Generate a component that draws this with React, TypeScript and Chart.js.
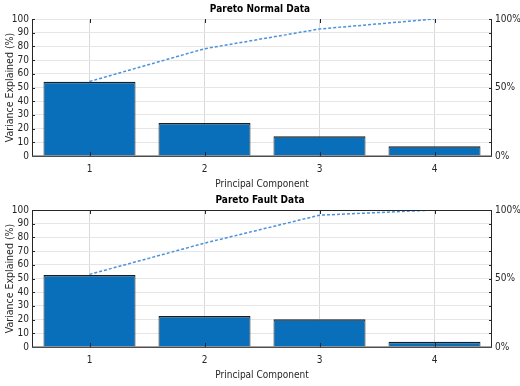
import React, { useEffect, useRef } from "react";
import { Chart, registerables } from "chart.js";

Chart.register(...registerables);

const categories = ["1", "2", "3", "4"];
const normalVariance = [54.2, 24.0, 14.4, 7.1];
const normalCumulative = [54.4, 78.3, 92.7, 100];
const faultVariance = [52.6, 22.6, 20.3, 3.8];
const faultCumulative = [53.0, 75.8, 96.2, 100];
const rightTickLabels: Record<number, string> = { 0: "0%", 50: "50%", 100: "100%" };

const FONT = "'Liberation Sans Narrow', 'DejaVu Sans Condensed', 'Liberation Sans', sans-serif";
const BAR_COLOR = "#0a6fba";
const LINE_COLOR = "#4a92dc";
const AXIS_COLOR = "#262626";

const framePlugin = {
  id: "frame",
  afterDatasetsDraw(chart: any, _args: any, opts: any) {
    const { ctx, chartArea: a, scales } = chart;
    ctx.save();
    ctx.strokeStyle = AXIS_COLOR;
    ctx.lineWidth = 1;
    scales.y.ticks.forEach((t: any) => {
      const py = Math.round(scales.y.getPixelForValue(t.value)) + 0.5;
      ctx.beginPath();
      ctx.moveTo(a.left, py);
      ctx.lineTo(a.left + 3, py);
      ctx.moveTo(a.right, py);
      ctx.lineTo(a.right - 3, py);
      ctx.stroke();
    });
    scales.x.ticks.forEach((_t: any, i: number) => {
      const px = Math.round(scales.x.getPixelForTick(i)) + 0.5;
      ctx.beginPath();
      ctx.moveTo(px, a.bottom);
      ctx.lineTo(px, a.bottom - 4);
      ctx.moveTo(px, a.top);
      ctx.lineTo(px, a.top + 4);
      ctx.stroke();
    });
    ctx.beginPath();
    ctx.moveTo(a.left + 0.5, a.top);
    ctx.lineTo(a.left + 0.5, a.bottom);
    ctx.moveTo(a.right - 0.5, a.top);
    ctx.lineTo(a.right - 0.5, a.bottom);
    ctx.stroke();
    if (opts.top) {
      ctx.beginPath();
      ctx.moveTo(a.left, a.top + 0.5);
      ctx.lineTo(a.right, a.top + 0.5);
      ctx.stroke();
    }
    ctx.strokeStyle = "#4d4d4d";
    ctx.lineWidth = 1.5;
    ctx.beginPath();
    ctx.moveTo(a.left, a.bottom + 0.25);
    ctx.lineTo(a.right, a.bottom + 0.25);
    ctx.stroke();
    ctx.restore();
  },
};

function ParetoChart({ title, values, cumulative, topBorder }: { title: string; values: number[]; cumulative: number[]; topBorder: boolean }) {
  const ref = useRef<HTMLCanvasElement>(null);
  useEffect(() => {
    if (!ref.current) return;
    const chart = new Chart(ref.current, {
      type: "bar",
      data: {
        labels: categories,
        datasets: [
          {
            type: "line",
            data: cumulative,
            yAxisID: "y1",
            borderColor: LINE_COLOR,
            borderWidth: 1.5,
            borderDash: [3, 2],
            pointRadius: 0,
            fill: false,
            tension: 0,
            order: 0,
          } as any,
          {
            type: "bar",
            data: values,
            yAxisID: "y",
            backgroundColor: BAR_COLOR,
            borderColor: "#1c1c1c",
            borderWidth: { top: 1.5, left: 1, right: 1, bottom: 0 },
            barPercentage: 0.8,
            categoryPercentage: 1,
            order: 1,
          } as any,
        ],
      },
      options: {
        responsive: false,
        animation: false,
        devicePixelRatio: 1,
        layout: { padding: { top: 0, left: 0, right: 0, bottom: 0 } },
        plugins: {
          legend: { display: false },
          tooltip: { enabled: false },
          title: {
            display: true,
            text: title,
            color: "#000",
            font: { family: FONT, size: 10, weight: "bold" },
            padding: { top: 3, bottom: 4 },
          },
          frame: { top: topBorder },
        } as any,
        scales: {
          x: {
            type: "category",
            offset: true,
            grid: { display: true, offset: false, color: "#d9d9d9", drawTicks: false },
            border: { display: false },
            ticks: { color: AXIS_COLOR, font: { family: FONT, size: 10 }, padding: 7 },
            title: {
              display: true,
              text: "Principal Component",
              color: AXIS_COLOR,
              font: { family: FONT, size: 10 },
              padding: { top: 0, bottom: 1 },
            },
            afterFit: (s: any) => {
              s.height = 35;
            },
          },
          y: {
            position: "left",
            min: 0,
            max: 100,
            ticks: { stepSize: 10, autoSkip: false, color: AXIS_COLOR, font: { family: FONT, size: 10 }, padding: 3 },
            grid: { color: "#e6e6e6", drawTicks: false },
            border: { display: false },
            title: {
              display: true,
              text: "Variance Explained (%)",
              color: AXIS_COLOR,
              font: { family: FONT, size: 10.5 },
              padding: { top: 4, bottom: 0 },
            },
            afterFit: (s: any) => {
              s.width = 32;
            },
          },
          y1: {
            position: "right",
            min: 0,
            max: 100,
            ticks: {
              stepSize: 10,
              autoSkip: false,
              color: AXIS_COLOR,
              font: { family: FONT, size: 10 },
              padding: 3,
              callback: (v: any) => rightTickLabels[Number(v)] ?? "",
            },
            grid: { drawOnChartArea: false, drawTicks: false },
            border: { display: false },
            afterFit: (s: any) => {
              s.width = 28;
            },
          },
        },
      } as any,
      plugins: [framePlugin],
    });
    return () => chart.destroy();
  }, [title, values, cumulative, topBorder]);
  return <canvas ref={ref} width={520} height={191} style={{ display: "block", width: 520, height: 191 }} />;
}

export default function App() {
  return (
    <div style={{ position: "absolute", left: 0, top: 0, width: 520, height: 386, background: "#fff" }}>
      <ParetoChart title="Pareto Normal Data" values={normalVariance} cumulative={normalCumulative} topBorder={false} />
      <ParetoChart title="Pareto Fault Data" values={faultVariance} cumulative={faultCumulative} topBorder={true} />
    </div>
  );
}
